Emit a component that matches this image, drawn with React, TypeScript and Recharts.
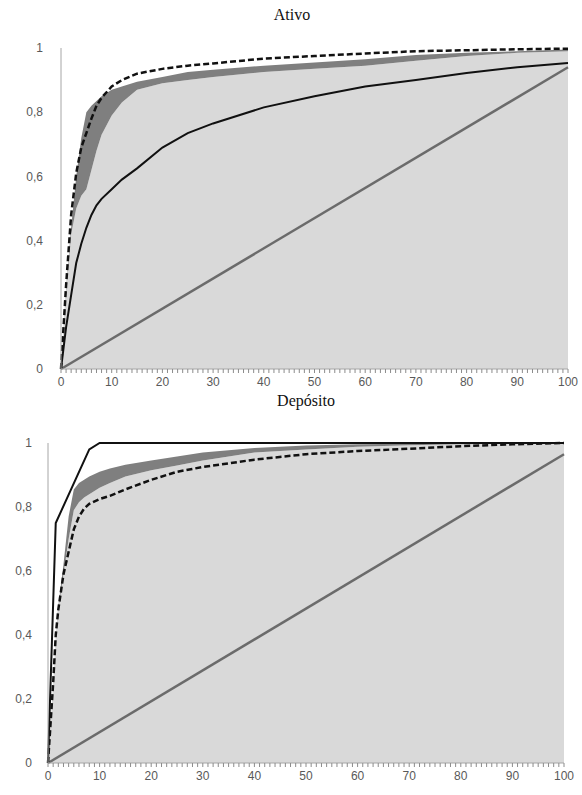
import { ComposedChart, Area, Line, XAxis, YAxis } from 'recharts';

// shared x grid (percent of institutions)
const ativoX = [0, 1, 2, 3, 4, 5, 6, 7, 8, 10, 12, 15, 20, 25, 30, 40, 50, 60, 70, 80, 90, 100];
const ativoLow = [0, 0.24, 0.42, 0.5, 0.54, 0.56, 0.62, 0.68, 0.73, 0.79, 0.83, 0.87, 0.89, 0.9, 0.91, 0.925, 0.935, 0.945, 0.96, 0.975, 0.985, 0.99];
const ativoHigh = [0, 0.25, 0.44, 0.6, 0.72, 0.8, 0.82, 0.835, 0.85, 0.87, 0.88, 0.895, 0.91, 0.925, 0.932, 0.945, 0.955, 0.965, 0.978, 0.985, 0.99, 0.995];
const ativoSolid = [0, 0.13, 0.23, 0.33, 0.39, 0.44, 0.48, 0.51, 0.53, 0.56, 0.59, 0.625, 0.69, 0.735, 0.765, 0.815, 0.85, 0.88, 0.9, 0.922, 0.94, 0.953];
const ativoDashed = [0, 0.26, 0.48, 0.61, 0.69, 0.735, 0.78, 0.82, 0.845, 0.88, 0.9, 0.92, 0.935, 0.945, 0.952, 0.967, 0.975, 0.983, 0.99, 0.993, 0.996, 0.998];
const ativoDiag = [0, 0.94];

const depX = [0, 1, 1.5, 2, 3, 4, 5, 6, 7, 8, 10, 12, 15, 20, 25, 30, 40, 50, 60, 70, 80, 90, 100];
const depLow = [0, 0.25, 0.4, 0.48, 0.59, 0.7, 0.79, 0.815, 0.83, 0.84, 0.86, 0.875, 0.895, 0.915, 0.93, 0.945, 0.97, 0.98, 0.988, 0.993, 0.996, 0.998, 1];
const depHigh = [0, 0.25, 0.4, 0.49, 0.62, 0.77, 0.855, 0.875, 0.885, 0.895, 0.91, 0.92, 0.932, 0.945, 0.958, 0.97, 0.984, 0.992, 0.996, 0.998, 1, 1, 1];
const depSolid = [0, null, 0.75, null, null, null, null, null, null, 0.98, 1, null, null, null, null, null, null, null, null, null, null, null, 1];
const depDashed = [0, 0.25, 0.4, 0.48, 0.59, 0.66, 0.73, 0.77, 0.795, 0.81, 0.825, 0.835, 0.855, 0.885, 0.91, 0.925, 0.948, 0.965, 0.975, 0.982, 0.99, 0.996, 1];
const depDiag = [0, 0.965];

const xTicks = Array.from({ length: 101 }, (_, i) => i);
const yTicks = [0, 0.2, 0.4, 0.6, 0.8, 1];

const fmtY = (v: number) => (v === 0 ? '0' : v === 1 ? '1' : v.toFixed(1).replace('.', ','));

const buildRows = (xs: number[], low: any[], high: any[], solid: any[], dashed: any[], diag: number[]) =>
  xs.map((x, i) => ({
    x,
    low: low[i],
    band: [low[i], high[i]],
    solid: solid[i],
    dashed: dashed[i],
    diag: x === 0 ? diag[0] : x === 100 ? diag[1] : null,
  }));

const XTick = (props: any) => {
  const { x, y, payload } = props;
  if (payload.value % 10 !== 0) return <g />;
  return (
    <text x={x} y={y} dy={11} textAnchor="middle" fill="#595959" fontSize={12} fontFamily="'Liberation Sans', Arial, sans-serif">
      {payload.value}
    </text>
  );
};

function Panel({ rows, top, height, margin, yWidth, yGap }: any) {
  return (
    <div style={{ position: 'absolute', left: 0, top, width: 582, height }}>
      <ComposedChart width={582} height={height} data={rows} margin={margin}>
        <XAxis
          type="number"
          dataKey="x"
          domain={[0, 100]}
          ticks={xTicks}
          interval={0}
          tickSize={4}
          tickLine={{ stroke: '#8c8c8c' }}
          axisLine={{ stroke: '#a6a6a6' }}
          tick={<XTick />}
          height={height - margin.top - (margin.plotH as number)}
        />
        <YAxis
          type="number"
          domain={[0, 1]}
          ticks={yTicks}
          width={yWidth}
          tickLine={false}
          tickSize={0}
          tickMargin={yGap}
          axisLine={{ stroke: '#a6a6a6' }}
          tickFormatter={fmtY}
          tick={{ fill: '#595959', fontSize: 12, fontFamily: "'Liberation Sans', Arial, sans-serif" }}
        />
        <Area type="linear" dataKey="low" fill="#d9d9d9" fillOpacity={1} stroke="none" isAnimationActive={false} />
        <Area type="linear" dataKey="band" fill="#7f7f7f" fillOpacity={1} stroke="none" isAnimationActive={false} />
        <Line type="linear" dataKey="diag" stroke="#6b6b6b" strokeWidth={2.5} dot={false} connectNulls isAnimationActive={false} />
        <Line type="linear" dataKey="solid" stroke="#111" strokeWidth={2} dot={false} connectNulls isAnimationActive={false} />
        <Line type="linear" dataKey="dashed" stroke="#111" strokeWidth={2.5} strokeDasharray="6 3" dot={false} connectNulls isAnimationActive={false} />
      </ComposedChart>
    </div>
  );
}

const titleStyle: any = {
  position: 'absolute',
  width: 140,
  textAlign: 'center',
  fontFamily: "'Liberation Serif', 'DejaVu Serif', serif",
  fontSize: 16,
  color: '#111',
  lineHeight: '18px',
};

export default function App() {
  const ativoRows = buildRows(ativoX, ativoLow, ativoHigh, ativoSolid, ativoDashed, ativoDiag);
  const depRows = buildRows(depX, depLow, depHigh, depSolid, depDashed, depDiag);
  return (
    <div style={{ position: 'absolute', left: 0, top: 0, width: 582, height: 795, background: '#fff', overflow: 'hidden' }}>
      <div style={{ ...titleStyle, left: 222, top: 6 }}>Ativo</div>
      <Panel rows={ativoRows} top={0} height={400} margin={{ top: 48, right: 14, left: 0, bottom: 0, plotH: 321 }} yWidth={61} yGap={18} />
      <div style={{ ...titleStyle, left: 236, top: 392 }}>Depósito</div>
      <Panel rows={depRows} top={400} height={395} margin={{ top: 43, right: 18, left: 0, bottom: 0, plotH: 320 }} yWidth={48} yGap={16} />
    </div>
  );
}
